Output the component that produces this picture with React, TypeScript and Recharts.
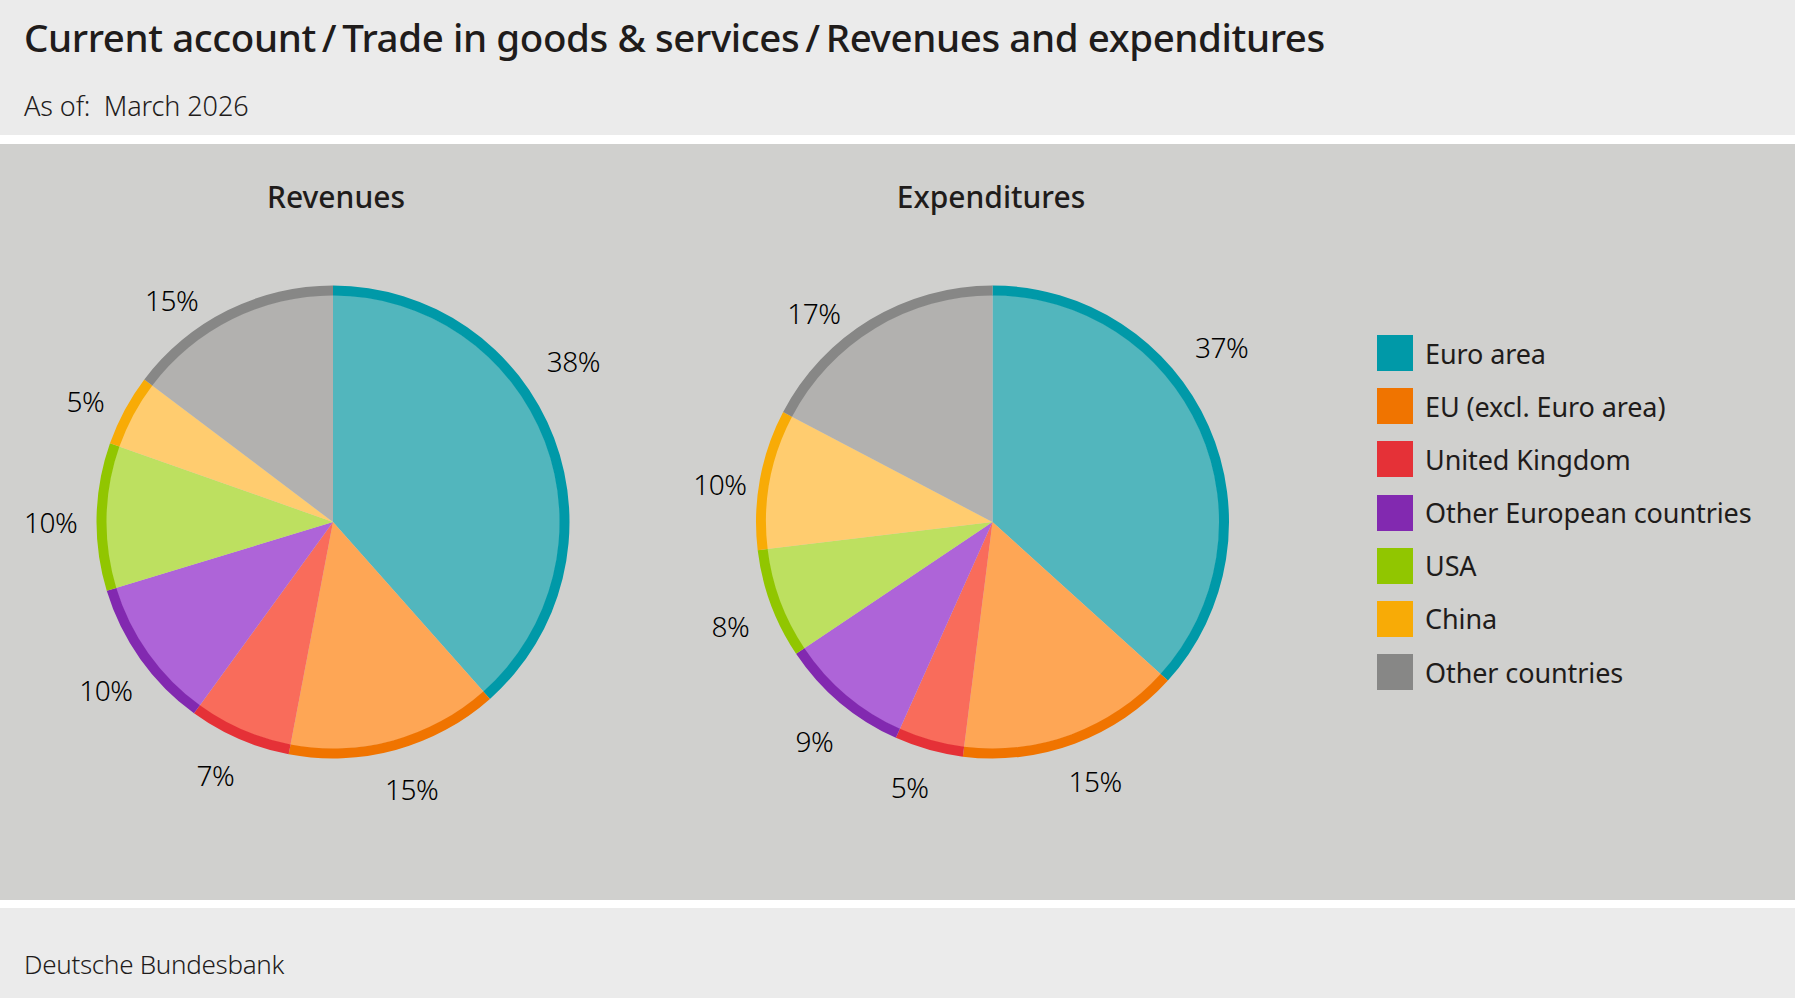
import React from "react";
import { PieChart, Pie, Cell, Legend } from "recharts";

const categories = [
  "Euro area",
  "EU (excl. Euro area)",
  "United Kingdom",
  "Other European countries",
  "USA",
  "China",
  "Other countries",
];
const revenues = [38.45, 14.55, 7.0, 10.3, 10.1, 4.9, 14.7];
const expenditures = [36.7, 15.3, 4.7, 8.9, 7.5, 9.6, 17.3];
const strongColors = ["#0099a8", "#f07400", "#e53137", "#8229b0", "#91c600", "#f8ab06", "#878786"];
const lightColors = ["#52b6bd", "#fea655", "#f96c5b", "#ae64d8", "#bde060", "#ffcc6f", "#b2b1af"];

// label nudges away from the mid-angle anchor, [dx, dy] in px
const revenueNudge = [[-25, -60], [5, 0], [-7, -3], [3, 4], [2, 6], [2, 13], [-37, 28]];
const expenditureNudge = [[-30, -60], [6, -2], [-8, -2], [3, 4], [4, 5], [7, 14], [-34, 30]];

const FONT = '"Noto Sans", sans-serif';
const TEXT = "#1f1c1b";
const RADIUS = 236.5;
const RING = 10;
const CY = 378; // chart starts at y=144

const toRows = (values: number[]) => values.map((value, i) => ({ name: categories[i], value }));

// percent labels sit outside the ring, a little further out at the sides
const pctLabel = (nudge: number[][]) => ({ cx, cy, midAngle, value, index }: any) => {
  const rad = (midAngle * Math.PI) / 180;
  const r = RADIUS + 38 + 10 * Math.abs(Math.cos(rad));
  return (
    <text
      x={cx + r * Math.cos(rad) + nudge[index][0]}
      y={cy - r * Math.sin(rad) + nudge[index][1]}
      textAnchor="middle"
      dominantBaseline="central"
      fontFamily={FONT}
      fontSize={28}
      fontWeight={300}
      letterSpacing={-0.5}
      fill="#000"
    >
      {Math.round(value)}%
    </text>
  );
};

function renderLegend() {
  return (
    <div>
      {categories.map((name, i) => (
        <div key={name} style={{ display: "flex", alignItems: "center", height: 36, marginBottom: 17.2 }}>
          <div style={{ width: 36, height: 36, background: strongColors[i], marginRight: 12 }} />
          <span style={{ fontFamily: FONT, fontSize: 27, color: TEXT, letterSpacing: -0.1, whiteSpace: "nowrap" }}>
            {name}
          </span>
        </div>
      ))}
    </div>
  );
}

function Band({ top, height, bg }: { top: number; height: number; bg: string }) {
  return <div style={{ position: "absolute", left: 0, top, width: 1795, height, background: bg }} />;
}

function Txt({ x, y, size, weight = 400, spacing = 0, center = false, children }: any) {
  return (
    <div
      style={{
        position: "absolute",
        left: x,
        top: y,
        transform: center ? "translateX(-50%)" : undefined,
        fontFamily: FONT,
        fontSize: size,
        fontWeight: weight,
        letterSpacing: spacing,
        lineHeight: 1,
        color: TEXT,
        whiteSpace: "nowrap",
      }}
    >
      {children}
    </div>
  );
}

function Donut({ values, cx, nudge }: { values: number[]; cx: number; nudge: number[][] }) {
  const rows = toRows(values);
  return (
    <>
      <Pie
        data={rows}
        dataKey="value"
        cx={cx}
        cy={CY}
        innerRadius={0}
        outerRadius={RADIUS - RING + 0.5}
        startAngle={90}
        endAngle={-270}
        stroke="none"
        isAnimationActive={false}
        labelLine={false}
      >
        {rows.map((row, i) => (
          <Cell key={row.name} fill={lightColors[i]} />
        ))}
      </Pie>
      <Pie
        data={rows}
        dataKey="value"
        cx={cx}
        cy={CY}
        innerRadius={RADIUS - RING}
        outerRadius={RADIUS}
        startAngle={90}
        endAngle={-270}
        stroke="none"
        isAnimationActive={false}
        label={pctLabel(nudge)}
        labelLine={false}
      >
        {rows.map((row, i) => (
          <Cell key={row.name} fill={strongColors[i]} />
        ))}
      </Pie>
    </>
  );
}

export default function App() {
  return (
    <div style={{ position: "absolute", left: 0, top: 0, width: 1795, height: 998, background: "#fff", overflow: "hidden" }}>
      <Band top={0} height={135} bg="#ebebeb" />
      <Band top={144} height={756} bg="#d0d0ce" />
      <Band top={908} height={90} bg="#ebebeb" />

      <Txt x={24} y={18} size={38.5} weight={500} spacing={-0.4}>
        Current account{"\u2009/\u2009"}Trade in goods &amp; services{"\u2009/\u2009"}Revenues and expenditures
      </Txt>
      <Txt x={24} y={92} size={27} weight={300} spacing={-0.1}>
        As of:{"\u2002"}March 2026
      </Txt>
      <Txt x={24} y={951} size={26} weight={300} spacing={-0.3}>
        Deutsche Bundesbank
      </Txt>
      <Txt x={336} y={182} size={30} weight={500} spacing={0} center>
        Revenues
      </Txt>
      <Txt x={991} y={182} size={30} weight={500} spacing={0} center>
        Expenditures
      </Txt>

      <div style={{ position: "absolute", left: 0, top: 144 }}>
        <PieChart width={1795} height={756} margin={{ top: 0, right: 0, bottom: 0, left: 0 }}>
          {Donut({ values: revenues, cx: 333, nudge: revenueNudge })}
          {Donut({ values: expenditures, cx: 992.5, nudge: expenditureNudge })}
          <Legend content={renderLegend} wrapperStyle={{ left: 1377, top: 191, width: 400, bottom: "auto" }} />
        </PieChart>
      </div>
    </div>
  );
}
